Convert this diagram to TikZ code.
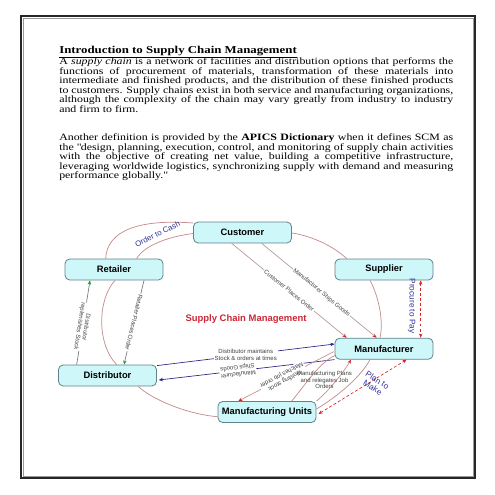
\documentclass[tikz,border=0pt]{standalone}
\usepackage{fontspec}
\setmainfont{Liberation Serif}[FakeStretch=1.22]
\setsansfont{Liberation Sans}
\usetikzlibrary{arrows.meta,calc}
\definecolor{boxfill}{RGB}{206,247,250}
\definecolor{boxborder}{RGB}{95,130,140}
\definecolor{ringc}{RGB}{196,140,140}
\definecolor{clinec}{RGB}{180,150,150}
\definecolor{arrred}{RGB}{210,40,40}
\definecolor{navyc}{RGB}{40,40,130}
\definecolor{labblue}{RGB}{50,50,150}
\definecolor{scmred}{RGB}{200,40,55}
\definecolor{greenc}{RGB}{30,150,40}
\definecolor{glinec}{RGB}{120,120,120}
\newcommand\jline[1]{\makebox[295.5pt][s]{#1}}
\newcommand\sdq{\XeTeXglyph\XeTeXglyphindex "quotedbl"\relax}
\begin{document}
\begin{tikzpicture}[x=0.75pt,y=-0.75pt,
  box/.style={draw=boxborder, fill=boxfill, rounded corners=3.5pt, line width=0.6pt,
    minimum width=73.5pt, minimum height=15.75pt, inner sep=0pt,
    font=\sffamily\bfseries\fontsize{7}{8}\selectfont},
  txt/.style={anchor=base west, inner sep=0pt, font=\fontsize{7.3}{8}\selectfont},
  ring/.style={draw=ringc, line width=0.55pt},
  lab/.style={font=\sffamily\fontsize{4.5}{5}\selectfont, text=black!75, inner sep=0.6pt, align=center},
  wlab/.style={lab, fill=white},
  bluelab/.style={font=\sffamily\fontsize{6.2}{6.6}\selectfont, text=labblue, inner sep=0pt, align=center},
  redtip/.style={-{Stealth[length=3.2pt,width=2.6pt,color=arrred]}},
  redtips/.style={{Stealth[length=3.2pt,width=2.6pt,color=arrred]}-{Stealth[length=3.2pt,width=2.6pt,color=arrred]}},
  bluetip/.style={-{Stealth[length=3.2pt,width=2.6pt,color=navyc]}},
  greentip/.style={-{Stealth[length=3.2pt,width=2.6pt,color=greenc]}}
]
\useasboundingbox (0,0) rectangle (495,495);
% page frame
\draw[line width=1.3pt, black!85] (20.8,15.8) rectangle (475.2,478.2);
\draw[line width=0.6pt, black!40] (23,18) rectangle (473,476);

% text
\node[txt, font=\bfseries\fontsize{7.9}{9}\selectfont] (title) at (59,53.5) {\underline{Introduction to Supply Chain Management}};
\node[txt] (p1a) at (59,64.8) {\jline{A \textit{supply chain} is a network of facilities and distribution options that performs the}};
\node[txt] (p1b) at (59,74.3) {\jline{functions of procurement of materials, transformation of these materials into}};
\node[txt] (p1c) at (59,83.8) {\jline{intermediate and finished products, and the distribution of these finished products}};
\node[txt] (p1d) at (59,93.3) {\jline{to customers. Supply chains exist in both service and manufacturing organizations,}};
\node[txt] (p1e) at (59,102.8) {\jline{although the complexity of the chain may vary greatly from industry to industry}};
\node[txt] (p1f) at (59,112.3) {and firm to firm.};
\node[txt] (p2a) at (59,140.8) {\jline{Another definition is provided by the \textbf{APICS Dictionary} when it defines SCM as}};
\node[txt] (p2b) at (59,150.2) {\jline{the \sdq design, planning, execution, control, and monitoring of supply chain activities}};
\node[txt] (p2c) at (59,159.7) {\jline{with the objective of creating net value, building a competitive infrastructure,}};
\node[txt] (p2d) at (59,169.1) {\jline{leveraging worldwide logistics, synchronizing supply with demand and measuring}};
\node[txt] (p2e) at (59,178.5) {performance globally.\sdq};

% nodes
\node[box] (cust) at (242.5,232.5) {Customer};
\node[box] (ret) at (114,269.5) {Retailer};
\node[box] (sup) at (384,269.5) {Supplier};
\node[box] (man) at (384,348.7) {Manufacturer};
\node[box] (dist) at (107.5,375.5) {Distributor};
\node[box] (mu) at (267,412) {Manufacturing Units};

\node[font=\sffamily\bfseries\fontsize{7.1}{8}\selectfont, text=scmred] (scm) at (246,319) {Supply Chain Management};

% ring
\draw[ring] ($(ret.north)+(-8.3,0)$) .. controls (107,230) and (140,219) .. ($(cust.west)+(0,-9.5)$);
\draw[ring] ($(ret.north)+(22.7,0)$) .. controls (143,247) and (165,237) .. ($(cust.west)+(0,1)$);
\draw[ring] ($(cust.east)+(0,0.5)$) .. controls (312,236) and (333,246) .. ($(sup.north)+(-37.3,0)$);
\draw[ring] ($(sup.south)+(-14,0)$) .. controls (378,295) and (384,320) .. ($(man.north)+(-4,0)$);
\draw[ring] ($(man.south)+(-14,0)$) .. controls (362,375) and (340,395) .. ($(mu.east)+(0,-3)$);
\draw[ring] ($(dist.south)+(30.8,0)$) .. controls (150,398) and (185,414) .. ($(mu.west)+(0,4.7)$);
\draw[ring] ($(ret.south)+(1,0)$) .. controls (97,300) and (97,345) .. ($(dist.north)+(9.2,0)$);

\node[bluelab, font=\sffamily\fontsize{5.9}{6.4}\selectfont, rotate=27] (otc) at (157.5,234) {Order to Cash};

% customer -> manufacturer
\draw[clinec, line width=0.5pt, redtip] ($(cust.south)+(-10.8,0)$) -- node[wlab, sloped, pos=0.5] {Customer Places Order} ($(man.north)+(-37.3,0)$);
\draw[clinec, line width=0.5pt, redtip] ($(cust.south)+(19.2,0)$) -- node[wlab, sloped, pos=0.52] {Manufacturer Ships Goods} ($(man.north)+(-7.3,0)$);

% retailer <-> distributor
\draw[glinec, line width=0.5pt, greentip] ($(dist.north)+(-30.8,0)$) -- node[wlab, rotate=-99, pos=0.45] {Distributor\\replenishes Stock} ($(ret.south)+(-24,0)$);
\draw[glinec, line width=0.5pt, greentip] ($(ret.south)+(30,0)$) -- node[wlab, rotate=-103.5, pos=0.5] {Retailer Places Order} ($(dist.north)+(16.5,0)$);

% distributor <-> manufacturer
\draw[navyc, line width=0.5pt, bluetip] ($(dist.north east)+(0,1)$) -- node[wlab, pos=0.5] {Distributor maintains\\Stock \& orders at times} ($(man.west)+(0,-4.7)$);
\draw[navyc, line width=0.5pt, bluetip] ($(man.south west)+(0,0)$) -- node[wlab, rotate=186.7, pos=0.55] {Manufacturer\\Ships Goods} ($(dist.east)+(1.8,4.5)$);

% manufacturer <-> manufacturing units
\draw[ringc, line width=0.5pt, redtip] ($(man.west)+(-1,3)$) -- node[wlab, rotate=208.2, pos=0.53] {Holding stock\\Matches job order} ($(mu.north)+(-28.7,0)$);
\draw[ring] ($(mu.north)+(24.7,0)$) .. controls (305,385) and (320,362) .. ($(man.west)+(0,7)$);
\draw[ringc, line width=0.5pt, redtip] (mu.north east) .. controls (330,390) and (345,370) .. ($(man.south)+(-33,0)$);
\node[lab] (mplan) at (324.5,380) {Manufacturing Plans\\and relegates Job\\Orders};

\draw[arrred, line width=0.5pt, dash pattern=on 2.2pt off 1.6pt, redtips] ($(mu.east)+(2,2)$) -- ($(man.south)+(22.7,0)$);
\node[bluelab, rotate=-32] (ptm) at (375,384) {Plan to\\Make};

\draw[arrred, line width=0.5pt, dash pattern=on 2.2pt off 1.6pt, redtips] ($(sup.south)+(36.7,0)$) -- ($(man.north)+(36.7,0)$);
\node[bluelab, rotate=-90] (ptp) at (411.7,306) {Procure to Pay};
\end{tikzpicture}
\end{document}
